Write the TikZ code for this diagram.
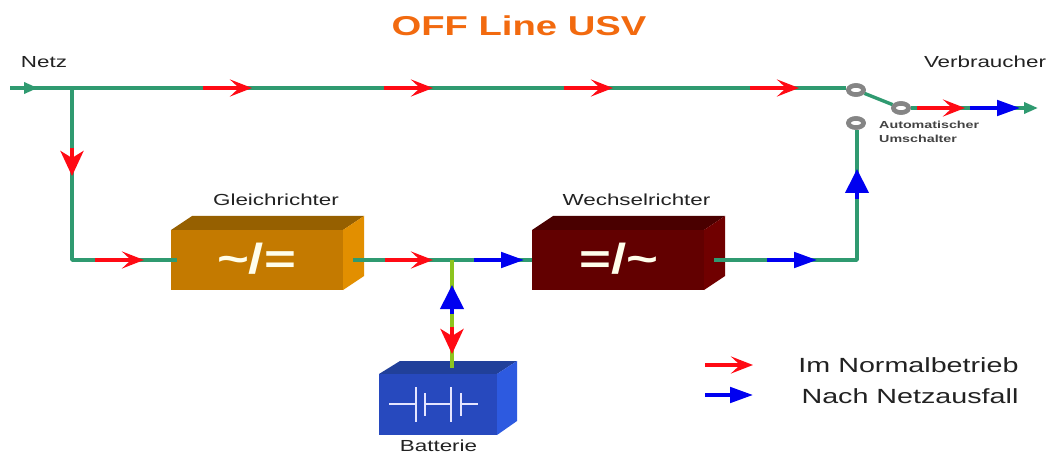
\documentclass[tikz,border=0pt]{standalone}
\usepackage{fontspec}
\setmainfont{Liberation Sans}
\newfontfamily\lab[FakeStretch=1.4]{Liberation Sans}
\newfontfamily\sym[FakeStretch=1.3]{Liberation Sans}
\usetikzlibrary{arrows.meta,shapes.geometric}
\definecolor{wire}{HTML}{2F9A70}
\definecolor{lime}{HTML}{8CC41E}
\definecolor{redf}{HTML}{FF0A14}
\definecolor{bluef}{HTML}{0000F0}
\definecolor{titleor}{HTML}{F26A0F}
\definecolor{ink}{HTML}{222222}
\tikzset{
  wireline/.style={draw=wire,line width=3.4pt,line join=round},
  limeline/.style={draw=lime,line width=4.2pt},
  redflow/.style={draw=redf,line width=3.4pt,-{Stealth[length=22pt,width=17pt,inset=9pt]}},
  blueflow/.style={draw=bluef,line width=3.4pt,-{Stealth[length=23pt,width=15.5pt,inset=0pt]}},
  redflowv/.style={draw=redf,line width=4pt,-{Stealth[length=25pt,width=23pt,inset=7pt]}},
  blueflowv/.style={draw=bluef,line width=4pt,-{Stealth[length=24pt,width=23pt,inset=0pt]}},
  greentip/.style={draw=wire,line width=3.4pt,-{Stealth[length=14pt,width=11pt,inset=0pt]}},
  frontface/.style={rectangle,inner sep=0pt,text=white!92!yellow,font=\sym\bfseries\fontsize{42}{42}\selectfont},
  contact/.style={ellipse,draw=black!48,fill=white,line width=4.5pt,minimum width=15pt,minimum height=9pt,inner sep=0pt},
  label/.style={font=\lab\fontsize{16}{18}\selectfont,text=ink,inner sep=0pt},
  legendlabel/.style={font=\lab\fontsize{20.5}{22}\selectfont,text=ink,inner sep=0pt},
  smalllabel/.style={font=\lab\bfseries\fontsize{10.2}{13.5}\selectfont,text=ink!85,inner sep=0pt,align=left},
  battline/.style={draw=white!90!blue,line width=1.5pt},
}
\newcommand{\flowarrow}[5]{\coordinate (#2) at #4; \coordinate (#3) at #5; \draw[#1] (#2) -- (#3);}
\begin{document}
\begin{tikzpicture}[x=1pt,y=-1pt]
\useasboundingbox[fill=white] (0,0) rectangle (1048,454);

% boxes
\fill[fill={rgb,255:red,150;green,96;blue,0}] (171,230) -- (192,216) -- (364,216) -- (343,230) -- cycle;
\fill[fill={rgb,255:red,226;green,143;blue,0}] (343,230) -- (364,216) -- (364,276) -- (343,290) -- cycle;
\node[frontface,fill={rgb,255:red,196;green,122;blue,0},minimum width=172pt,minimum height=60pt,text height=0pt,text depth=0pt] (gleich) at (257,260) {};
\node[frontface,inner sep=0pt] (gsym) at (256.5,259) {\symbol{126}/=};

\fill[fill={rgb,255:red,74;green,0;blue,0}] (532,230) -- (553,216) -- (725,216) -- (704,230) -- cycle;
\fill[fill={rgb,255:red,112;green,0;blue,0}] (704,230) -- (725,216) -- (725,276) -- (704,290) -- cycle;
\node[frontface,fill={rgb,255:red,98;green,0;blue,0},minimum width=172pt,minimum height=60pt] (wechsel) at (618,260) {};
\node[frontface,inner sep=0pt] (wsym) at (619,259) {=/\symbol{126}};

\fill[fill={rgb,255:red,33;green,64;blue,154}] (379,374) -- (400,361) -- (517,361) -- (497,374) -- cycle;
\fill[fill={rgb,255:red,45;green,90;blue,224}] (497,374) -- (517,361) -- (517,421) -- (497,435) -- cycle;
\node[frontface,fill={rgb,255:red,39;green,73;blue,190},minimum width=118pt,minimum height=61pt] (batt) at (438,404.5) {};

% battery symbol
\draw[battline] (389,404) -- (415,404);
\draw[battline] (416,387) -- (416,422);
\draw[battline] (425,393) -- (425,416);
\draw[battline] (425,404) -- (451,404);
\draw[battline] (451,387) -- (451,422);
\draw[battline] (461,393) -- (461,416);
\draw[battline] (461,404) -- (478,404);

% named points
\coordinate (in) at (10,88);
\coordinate (tee) at (72,88);
\coordinate (bend) at (72,260);
\coordinate (dc) at (452,260);
\coordinate (battin) at (452,368);
\coordinate (corner) at (857,260);
\coordinate (out) at (1024,107);
\coordinate (gr) at (353,260);
\coordinate (gl) at (177,260);
\coordinate (wl) at (532,260);
\coordinate (wr) at (714,260);

% contacts
\node[contact] (c1) at (856,90) {};
\node[contact] (c2) at (901,108) {};
\node[contact] (c3) at (856,123) {};

% wires
\draw[wireline] (in) -- (in -| c1.west);
\draw[wireline] (tee) -- (bend) -- (gl);
\draw[wireline] (gr) -- (wl);
\draw[wireline] (wr) -- (corner) -- (corner |- c3.south);
\draw[wireline] (c1) -- (c2);
\draw[wireline] (c2.east) -- (c2.east -| out);
\draw[limeline] (dc) -- (battin);

\node[contact] at (c1) {};
\node[contact] at (c2) {};
\node[contact] at (c3) {};

% flow arrows
\draw[greentip] (in) -- (38,88);
\flowarrow{redflow}{a1}{a2}{(203,88)}{(252,88)}
\flowarrow{redflow}{a3}{a4}{(384,88)}{(433,88)}
\flowarrow{redflow}{a5}{a6}{(564,88)}{(613,88)}
\flowarrow{redflow}{a7}{a8}{(750,88)}{(799,88)}
\flowarrow{redflowv}{b1}{b2}{(72,148)}{(72,176)}
\flowarrow{redflow}{b3}{b4}{(95,260)}{(144,260)}
\flowarrow{redflow}{b5}{b6}{(385,260)}{(433,260)}
\flowarrow{blueflow}{b7}{b8}{(474,260)}{(524,260)}
\flowarrow{blueflowv}{b9}{b10}{(452,314)}{(452,285)}
\flowarrow{redflowv}{b11}{b12}{(452,327)}{(452,354)}
\flowarrow{blueflow}{b13}{b14}{(767,260)}{(817,260)}
\flowarrow{blueflowv}{b15}{b16}{(857,199)}{(857,169)}
\draw[greentip] (1015,108) -- (1038,108);
\flowarrow{redflow}{d1}{d2}{(917,108)}{(965,108)}
\flowarrow{blueflow}{d3}{d4}{(970,108)}{(1020,108)}
\flowarrow{redflow}{e1}{e2}{(705,365)}{(753,365)}
\flowarrow{blueflow}{e3}{e4}{(705,395)}{(753,395)}

% labels
\node[font=\lab\bfseries\fontsize{27.3}{30}\selectfont,text=titleor,inner sep=0pt] (title) at (519,26) {OFF Line USV};
\node[label] (netz) at (44,62) {Netz};
\node[label] (verb) at (985,62) {Verbraucher};
\node[label] (lg) at (276,200) {Gleichrichter};
\node[label] (lw) at (636.5,200) {Wechselrichter};
\node[label] (lb) at (438.5,446) {Batterie};
\node[smalllabel,anchor=west] (sw) at (879,132) {Automatischer\\Umschalter};
\node[legendlabel] (l1) at (908.5,365) {Im Normalbetrieb};
\node[legendlabel] (l2) at (910,396) {Nach Netzausfall};
\end{tikzpicture}
\end{document}
